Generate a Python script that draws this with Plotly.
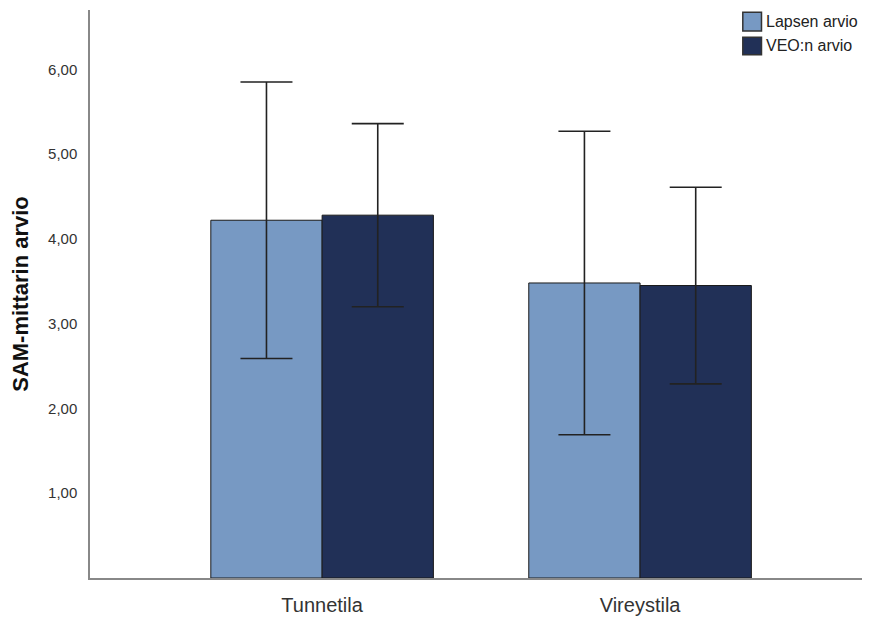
import plotly.graph_objects as go

categories = ["Tunnetila", "Vireystila"]
series_names = ["Lapsen arvio", "VEO:n arvio"]
lapsen_mean = [4.22, 3.48]
lapsen_upper = [5.85, 5.27]
lapsen_lower = [2.59, 1.69]
veo_mean = [4.28, 3.45]
veo_upper = [5.36, 4.61]
veo_lower = [3.20, 2.29]
y_ticks = [1, 2, 3, 4, 5, 6]
y_tick_labels = ["1,00", "2,00", "3,00", "4,00", "5,00", "6,00"]

colors = ["#7799C3", "#213057"]
FONT = "Arial, Liberation Sans, sans-serif"

fig = go.Figure()
for name, mean, up, lo, col in [
    (series_names[0], lapsen_mean, lapsen_upper, lapsen_lower, colors[0]),
    (series_names[1], veo_mean, veo_upper, veo_lower, colors[1]),
]:
    fig.add_trace(go.Bar(
        name=name, x=categories, y=mean, showlegend=False,
        marker=dict(color=col, line=dict(color="#1a1a1a", width=1)),
        error_y=dict(type="data", symmetric=False,
                     array=[u - m for u, m in zip(up, mean)],
                     arrayminus=[m - l for m, l in zip(mean, lo)],
                     color="#222222", thickness=1.6, width=26),
    ))

# legend drawn as boxes + text (paper coordinates)
legend_rows = [(0.996, 0.963, 0.979), (0.952, 0.921, 0.937)]
for (y1, y0, yc), name, col in zip(legend_rows, series_names, colors):
    fig.add_shape(type="rect", xref="paper", yref="paper",
                  x0=0.838, x1=0.862, y0=y0, y1=y1,
                  fillcolor=col, line=dict(color="#333333", width=1.5))
    fig.add_annotation(xref="paper", yref="paper", x=0.865, y=yc,
                       text=name, showarrow=False, xanchor="left",
                       yanchor="middle",
                       font=dict(size=16, color="#222222", family=FONT))

fig.update_layout(
    width=862, height=609,
    margin=dict(l=82, r=1, t=2, b=39),
    plot_bgcolor="white", paper_bgcolor="white",
    barmode="group", bargap=0.30, bargroupgap=0,
    font=dict(family=FONT, color="#333333"),
    showlegend=False,
    xaxis=dict(range=[-0.73, 1.72], showline=True, linecolor="#888888",
               linewidth=1.5, showgrid=False, ticks="",
               ticklabelstandoff=8,
               tickfont=dict(size=20, color="#333333")),
    yaxis=dict(range=[0, 6.7], showline=True, linecolor="#888888",
               linewidth=1.5, showgrid=False, zeroline=False, ticks="",
               tickvals=y_ticks, ticktext=y_tick_labels,
               tickfont=dict(size=15, color="#333333"),
               ticklabelstandoff=8,
               title=dict(text="<b>SAM-mittarin arvio</b>",
                          font=dict(size=22, color="#111111"), standoff=16)),
)

fig.write_html("out.html")
